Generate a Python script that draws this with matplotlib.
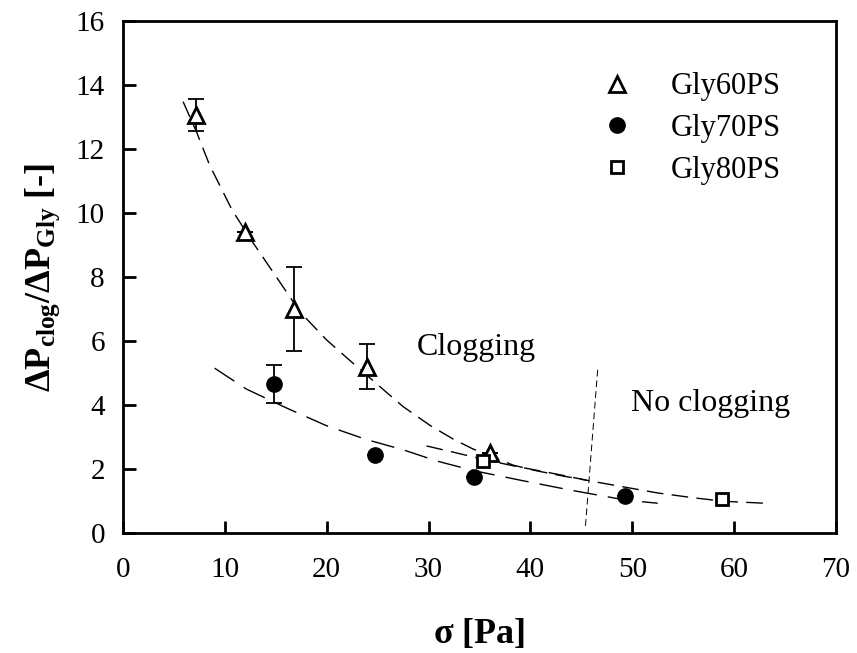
import matplotlib
matplotlib.use('Agg')
import matplotlib.pyplot as plt

plt.rcParams['font.family'] = ['Liberation Serif', 'DejaVu Serif']
plt.rcParams['mathtext.fontset'] = 'custom'
plt.rcParams['mathtext.rm'] = 'Liberation Serif'
plt.rcParams['mathtext.it'] = 'Liberation Serif:italic'
plt.rcParams['mathtext.bf'] = 'Liberation Serif:bold'

# measured points
x60 = [7.2, 12.0, 16.8, 24.0, 36.0]
y60 = [13.05, 9.4, 7.0, 5.2, 2.5]
err60 = [0.5, 0.0, 1.3, 0.7, 0.0]

x70 = [14.8, 24.7, 34.5, 49.3]
y70 = [4.65, 2.45, 1.75, 1.15]
err70 = [0.6, 0.0, 0.0, 0.0]

x80 = [35.3, 58.8]
y80 = [2.25, 1.05]

# fitted trend lines
fit60_x = [5.9, 7.2, 8.5, 10.7, 12.6, 15.7, 17.4, 20.0, 22.6, 25.6, 27.5, 30.2,
           32.5, 34.4, 36.3, 38.3, 40.5, 43.2, 45.5]
fit60_y = [13.48, 12.55, 11.5, 10.1, 9.15, 7.7, 6.9, 6.03, 5.3, 4.47, 3.95, 3.35,
           2.92, 2.62, 2.38, 2.12, 1.95, 1.78, 1.65]

fit80_x = [29.8, 32.5, 35.4, 38.3, 41.6, 43.2, 45.8, 49.5, 52.5, 56.0, 59.0, 63.0]
fit80_y = [2.72, 2.52, 2.3, 2.1, 1.9, 1.8, 1.63, 1.42, 1.25, 1.1, 0.99, 0.93]

fit70_x = [9.0, 12.1, 16.1, 20.0, 23.9, 27.5, 30.8, 34.4, 39.0, 43.6, 46.0, 49.5, 52.5]
fit70_y = [5.15, 4.5, 3.9, 3.35, 2.92, 2.6, 2.25, 1.95, 1.65, 1.36, 1.22, 1.02, 0.93]

# clogging boundary
bound_x = [46.6, 45.4]
bound_y = [5.1, 0.2]

fig = plt.figure(figsize=(8.57, 6.53), dpi=100)
ax = fig.add_axes([0.1435, 0.1838, 0.832, 0.784])

ax.plot(fit60_x, fit60_y, color='black', lw=1.0, linestyle=(0, (12, 6)))
ax.plot(fit80_x, fit80_y, color='black', lw=1.0, linestyle=(0, (12, 6)))
ax.plot(fit70_x, fit70_y, color='black', lw=1.0, linestyle=(0, (17, 8)))
ax.plot(bound_x, bound_y, color='black', lw=0.7, linestyle=(0, (7, 4)))

# error bars
ax.errorbar(x60, y60, yerr=err60, fmt='none', ecolor='black', elinewidth=1.3,
            capsize=6, capthick=1.3, zorder=3)
ax.errorbar(x70, y70, yerr=err70, fmt='none', ecolor='black', elinewidth=1.3,
            capsize=6, capthick=1.3, zorder=3)

# markers
ax.plot(x60, y60, '^', ms=11, mfc='white', mec='black', mew=2,
        linestyle='none', label='Gly60PS', zorder=4)
ax.plot(x70, y70, 'o', ms=11, mfc='black', mec='black',
        linestyle='none', label='Gly70PS', zorder=4)
ax.plot(x80, y80, 's', ms=9, mfc='white', mec='black', mew=2,
        linestyle='none', label='Gly80PS', zorder=4)

ax.text(34.7, 5.8, 'Clogging', fontsize=23, ha='center', va='center')
ax.text(57.7, 4.05, 'No clogging', fontsize=23, ha='center', va='center')

ax.set_xlim(0, 70)
ax.set_ylim(0, 16)
ax.set_xticks(range(0, 71, 10))
ax.set_yticks(range(0, 17, 2))
ax.tick_params(axis='x', direction='in', length=9, width=2, labelsize=21, pad=17)
ax.tick_params(axis='y', direction='in', length=9, width=2, labelsize=21, pad=13)
for s in ax.spines.values():
    s.set_linewidth(2)

ax.set_xlabel(r'$\mathbf{\sigma}$ [Pa]', fontsize=26, fontweight='bold', labelpad=25)
ax.set_ylabel(r'$\mathbf{\Delta P_{clog}/\Delta P_{Gly}}$ [-]', fontsize=26,
              fontweight='bold', labelpad=10)

ax.legend(loc='upper left', bbox_to_anchor=(0.672, 0.9), frameon=False,
          fontsize=22, handletextpad=1.25, labelspacing=0.42, handlelength=1.0,
          borderpad=0, borderaxespad=0)

fig.savefig('out.png', dpi=100)
